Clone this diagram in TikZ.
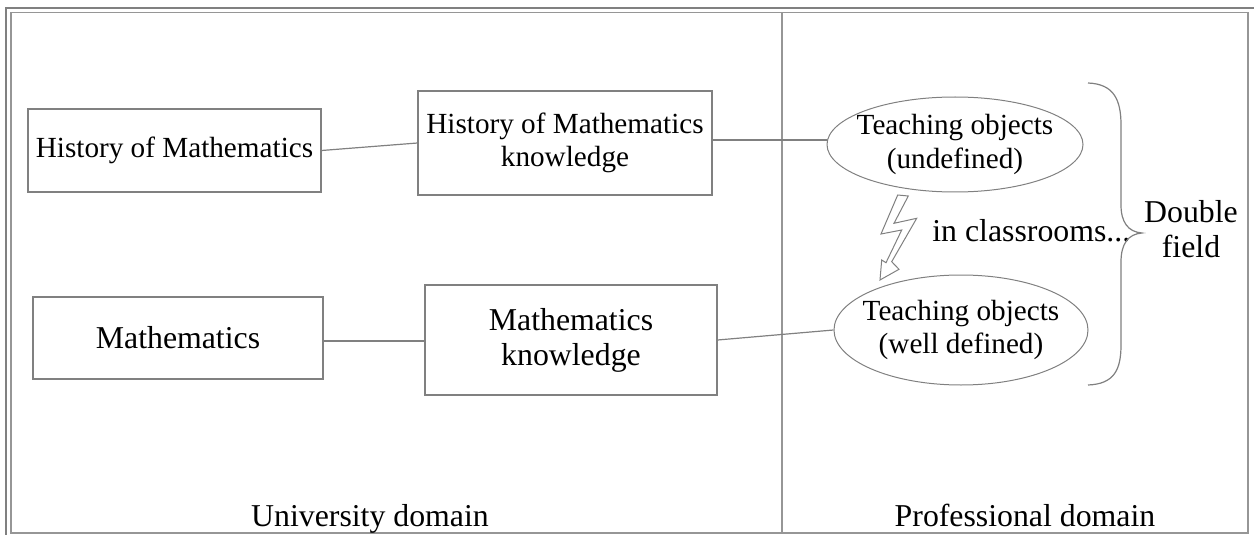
\documentclass[tikz,border=0pt]{standalone}
\usepackage{fontspec}
\setmainfont{Liberation Serif}
\usetikzlibrary{shapes.geometric}
\definecolor{linegray}{RGB}{128,128,128}
\definecolor{framegray}{RGB}{150,150,150}
\tikzset{
  smalltxt/.style={font=\fontsize{14.6pt}{16.6pt}\selectfont},
  largetxt/.style={font=\fontsize{15.9pt}{17.6pt}\selectfont},
  boxnode/.style={draw=linegray, line width=0.6pt, rectangle, inner sep=0pt, align=center},
  ellnode/.style={draw=linegray, line width=0.5pt, ellipse, inner sep=0pt},
  conn/.style={draw=linegray, line width=0.6pt},
}
\begin{document}
\begin{tikzpicture}[x=0.5pt, y=-0.5pt]
\useasboundingbox (0,0) rectangle (1254,535);
% frames
\draw[draw=linegray, line width=0.7pt] (6,540) -- (6,8) -- (1260,8);
\draw[draw=framegray, line width=0.9pt] (11,12.5) rectangle (1248,533);
\draw[draw=framegray, line width=0.8pt] (782,12.5) -- (782,533);
% nodes
\node[boxnode, smalltxt, minimum width=146.5pt, minimum height=41.5pt] (A) at (174.5,150.5) {History of Mathematics};
\node[boxnode, largetxt, minimum width=145pt, minimum height=41pt] (B) at (178,338) {Mathematics};
\node[boxnode, smalltxt, minimum width=147pt, minimum height=52pt] (C) at (565,143) {History of Mathematics\\knowledge};
\node[boxnode, largetxt, minimum width=146pt, minimum height=55pt] (D) at (571,340) {Mathematics\\knowledge};
\node[ellnode, minimum width=128pt, minimum height=47.5pt] (E) at (955,144.5) {};
\node[smalltxt, align=center, inner sep=0pt] (Et) at (E.center) {Teaching objects\\(undefined)};
\node[ellnode, minimum width=127pt, minimum height=55pt] (F) at (961,330) {};
\node[smalltxt, align=center, inner sep=0pt] (Ft) at (F.center) {Teaching objects\\(well defined)};
\node[largetxt, anchor=west, inner sep=0pt] (cls) at (932,231) {in classrooms...};
\node[largetxt, align=center, inner sep=0pt] (dbl) at (1191,229) {Double\\field};
\node[largetxt, anchor=base, inner sep=0pt] (uni) at (370,526) {University domain};
\node[largetxt, anchor=base, inner sep=0pt] (pro) at (1025,526) {Professional domain};
% connectors
\draw[conn] (A.east) -- (C.west);
\draw[conn] ([yshift=-1.5pt]B.east) -- ([yshift=-1.5pt]B.east -| D.west);
\draw[conn] ([yshift=1.5pt]C.east) -- ([yshift=1.5pt]C.east -| E.west);
\draw[conn] (D.east) -- (F.west);
% lightning arrow
\draw[draw=linegray, line width=0.5pt, fill=white, line join=miter]
  (897.7,195) -- (908.3,196) -- (894,223.3) -- (916.7,218.3) -- (891.7,261.7)
  -- (899,269.3) -- (880,280) -- (881.7,260) -- (886,262.7) -- (901.7,230)
  -- (881,234) -- cycle;
% brace
\draw[draw=linegray, line width=0.6pt]
  (1088,83) .. controls (1114,84) and (1121,100) .. (1121,125)
  -- (1121,205) .. controls (1121,222) and (1128,232) .. (1142,233)
  .. controls (1128,234) and (1121,244) .. (1121,262)
  -- (1121,345) .. controls (1121,370) and (1114,384) .. (1088,385);
\end{tikzpicture}
\end{document}
